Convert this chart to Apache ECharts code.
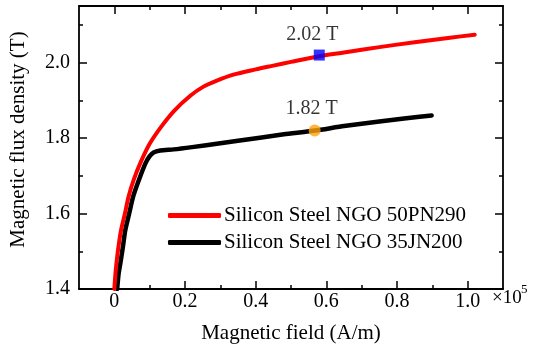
<!DOCTYPE html>
<html>
<head>
<meta charset="utf-8">
<script src="https://cdn.jsdelivr.net/npm/echarts@6/dist/echarts.min.js"></script>
<style>
  html, body { margin: 0; padding: 0; background: #fff; }
  #chart { width: 534px; height: 349px; }
</style>
</head>
<body>
<div id="chart"></div>
<script>
// B-H magnetisation curves; field in units of 1e5 A/m, flux density in T
const seriesNames = ['Silicon Steel NGO 50PN290', 'Silicon Steel NGO 35JN200'];

const curve50PN290 = [
  [0.0, 1.40], [0.004, 1.45], [0.01, 1.50], [0.019, 1.556], [0.03, 1.60],
  [0.04, 1.644], [0.055, 1.69], [0.075, 1.737], [0.10, 1.785], [0.135, 1.833],
  [0.17, 1.873], [0.215, 1.912], [0.25, 1.935], [0.29, 1.952], [0.337, 1.968],
  [0.40, 1.982], [0.45, 1.992], [0.50, 2.002], [0.58, 2.017], [0.65, 2.027],
  [0.75, 2.041], [0.85, 2.054], [0.95, 2.066], [1.02, 2.074]
];

const curve35JN200 = [
  [0.008, 1.40], [0.012, 1.44], [0.017, 1.468], [0.024, 1.51], [0.031, 1.556],
  [0.042, 1.60], [0.053, 1.644], [0.07, 1.69], [0.088, 1.733], [0.10, 1.752],
  [0.111, 1.762], [0.13, 1.767], [0.168, 1.770], [0.22, 1.776], [0.29, 1.785],
  [0.35, 1.793], [0.412, 1.801], [0.48, 1.81], [0.569, 1.82], [0.65, 1.832],
  [0.75, 1.844], [0.82, 1.852], [0.898, 1.86]
];

// highlighted operating points
const point50PN290 = [0.58, 2.02];
const point35JN200 = [0.567, 1.82];

const xMajorTicks = [0, 0.2, 0.4, 0.6, 0.8, 1.0];
const xMinorTicks = [0.1, 0.3, 0.5, 0.7, 0.9];

const FONT = '"Liberation Serif", "Times New Roman", serif';
const X_MIN = -0.1, X_MAX = 1.1;

function xAxisFor(position, ticks, len, withLine, withLabels) {
  return {
    type: 'value', position: position, min: X_MIN, max: X_MAX,
    axisLine: { show: withLine, onZero: false, lineStyle: { color: '#000', width: 1.8 } },
    splitLine: { show: false },
    axisTick: { show: true, inside: true, length: len, customValues: ticks,
                lineStyle: { color: '#000', width: 1.5 } },
    axisLabel: withLabels ? {
      show: true, customValues: xMajorTicks, margin: 3,
      color: '#000', fontFamily: FONT, fontSize: 20,
      formatter: v => (Math.abs(v) < 1e-9 ? '0' : v.toFixed(1))
    } : { show: false },
    name: withLabels ? 'Magnetic field (A/m)' : '',
    nameLocation: 'middle', nameGap: 34,
    nameTextStyle: { color: '#000', fontFamily: FONT, fontSize: 21 }
  };
}

function yAxisFor(position, withLabels) {
  return {
    type: 'value', position: position, min: 1.4, max: 2.15, interval: 0.2,
    axisLine: { show: true, onZero: false, lineStyle: { color: '#000', width: 1.8 } },
    splitLine: { show: false },
    axisTick: { show: true, inside: true, length: 8, lineStyle: { color: '#000', width: 1.5 } },
    minorTick: { show: true, splitNumber: 2, length: 4, lineStyle: { color: '#000', width: 1.5 } },
    minorSplitLine: { show: false },
    axisLabel: withLabels ? {
      show: true, margin: 9, color: '#000', fontFamily: FONT, fontSize: 20,
      showMaxLabel: false,
      formatter: v => v.toFixed(1)
    } : { show: false },
    name: withLabels ? 'Magnetic flux density (T)' : '',
    nameLocation: 'middle', nameGap: 50,
    nameTextStyle: { color: '#000', fontFamily: FONT, fontSize: 21, padding: [0, 0, 0, 16] }
  };
}

const chart = echarts.init(document.getElementById('chart'), null, { renderer: 'canvas' });

chart.setOption({
  animation: false,
  backgroundColor: '#fff',
  grid: { left: 78, right: 31, top: 6, bottom: 60, containLabel: false },
  xAxis: [
    xAxisFor('bottom', xMajorTicks, 8, true, true),
    xAxisFor('bottom', xMinorTicks, 4, false, false),
    xAxisFor('top', xMajorTicks, 8, true, false),
    xAxisFor('top', xMinorTicks, 4, false, false)
  ],
  yAxis: [yAxisFor('left', true), yAxisFor('right', false)],
  legend: {
    orient: 'vertical', left: 163, top: 200,
    itemWidth: 53, itemHeight: 5, itemGap: 6,
    icon: 'roundRect',
    data: seriesNames,
    textStyle: { color: '#000', fontFamily: FONT, fontSize: 21, padding: [0, 0, 0, -2] },
    selectedMode: false
  },
  graphic: [
    { type: 'text', left: 492, top: 289,
      style: { text: '×10', fontFamily: FONT, fontSize: 19, fill: '#000' } },
    { type: 'text', left: 521, top: 283,
      style: { text: '5', fontFamily: FONT, fontSize: 13, fill: '#000' } }
  ],
  series: [
    {
      name: seriesNames[1], type: 'line', data: curve35JN200,
      xAxisIndex: 0, yAxisIndex: 0, showSymbol: false, smooth: 0.2, z: 2,
      lineStyle: { color: '#000', width: 4.5, cap: 'round', join: 'round' },
      itemStyle: { color: '#000' }
    },
    {
      name: seriesNames[0], type: 'line', data: curve50PN290,
      xAxisIndex: 0, yAxisIndex: 0, showSymbol: false, smooth: 0.3, z: 3,
      lineStyle: { color: '#ff0000', width: 4, cap: 'round', join: 'round' },
      itemStyle: { color: '#ff0000' }
    },
    {
      type: 'scatter', data: [point50PN290], xAxisIndex: 0, yAxisIndex: 0,
      symbol: 'rect', symbolSize: 11, z: 5,
      itemStyle: { color: '#0000ff' },
      label: { show: true, position: 'top', distance: 5, offset: [-7, 0],
               formatter: p => p.value[1].toFixed(2) + ' T',
               color: '#000', fontFamily: FONT, fontSize: 20 }
    },
    {
      type: 'scatter', data: [point35JN200], xAxisIndex: 0, yAxisIndex: 0,
      symbol: 'circle', symbolSize: 12, z: 5,
      itemStyle: { color: '#ffa20a' },
      label: { show: true, position: 'top', distance: 6, offset: [-3, 0],
               formatter: p => p.value[1].toFixed(2) + ' T',
               color: '#000', fontFamily: FONT, fontSize: 20 }
    }
  ]
});
</script>
</body>
</html>
